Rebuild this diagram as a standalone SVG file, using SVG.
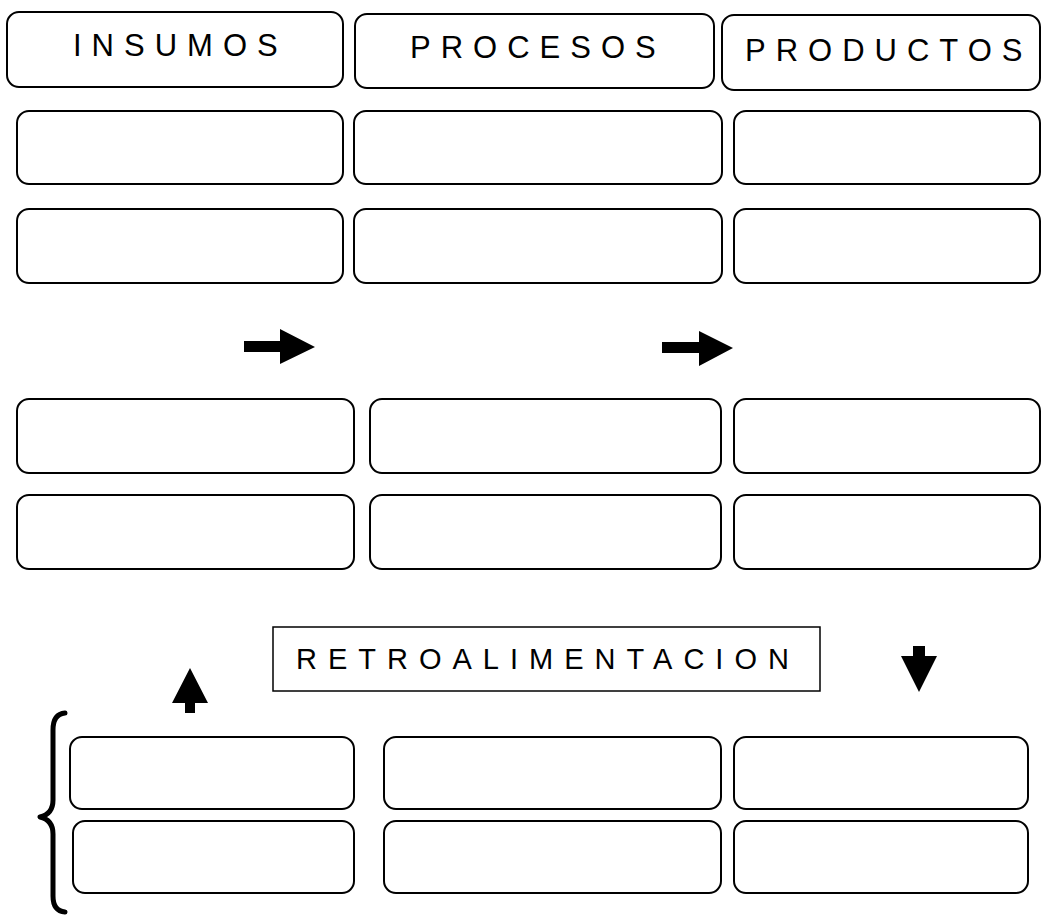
<svg xmlns="http://www.w3.org/2000/svg" width="1054" height="920" viewBox="0 0 1054 920">
  <style>
    .box { fill: #ffffff; stroke: #000000; stroke-width: 2; }
    .plain { fill: #ffffff; stroke: #000000; stroke-width: 1.5; }
    .label { font-family: "Liberation Sans", Arial, sans-serif; font-size: 31px; fill: #000000; letter-spacing: 10px; }
    .retro { font-size: 29px; letter-spacing: 11px; }
    .arrow { fill: #000000; stroke: none; }
    .brace { fill: none; stroke: #000000; stroke-width: 5; stroke-linecap: round; stroke-linejoin: round; }
  </style>
  <rect width="1054" height="920" fill="#ffffff"/>

  <!-- column headers -->
  <g id="insumos">
    <rect class="box" x="7" y="12" width="336" height="75" rx="12"/>
    <text class="label" x="73" y="56">INSUMOS</text>
  </g>
  <g id="procesos">
    <rect class="box" x="355" y="14" width="359" height="74" rx="12"/>
    <text class="label" x="410" y="58">PROCESOS</text>
  </g>
  <g id="productos">
    <rect class="box" x="722" y="15" width="318" height="75" rx="12"/>
    <text class="label" x="745" y="61">PRODUCTOS</text>
  </g>

  <!-- upper block, rows 2 and 3 -->
  <g id="r2c1"><rect class="box" x="17" y="111" width="326" height="73" rx="12"/></g>
  <g id="r2c2"><rect class="box" x="354" y="111" width="368" height="73" rx="12"/></g>
  <g id="r2c3"><rect class="box" x="734" y="111" width="306" height="73" rx="12"/></g>
  <g id="r3c1"><rect class="box" x="17" y="209" width="326" height="74" rx="12"/></g>
  <g id="r3c2"><rect class="box" x="354" y="209" width="368" height="74" rx="12"/></g>
  <g id="r3c3"><rect class="box" x="734" y="209" width="306" height="74" rx="12"/></g>

  <!-- middle block, rows 4 and 5 -->
  <g id="r4c1"><rect class="box" x="17" y="399" width="337" height="74" rx="12"/></g>
  <g id="r4c2"><rect class="box" x="370" y="399" width="351" height="74" rx="12"/></g>
  <g id="r4c3"><rect class="box" x="734" y="399" width="306" height="74" rx="12"/></g>
  <g id="r5c1"><rect class="box" x="17" y="495" width="337" height="74" rx="12"/></g>
  <g id="r5c2"><rect class="box" x="370" y="495" width="351" height="74" rx="12"/></g>
  <g id="r5c3"><rect class="box" x="734" y="495" width="306" height="74" rx="12"/></g>

  <!-- feedback label -->
  <g id="retroalimentacion">
    <rect class="plain" x="273" y="627" width="547" height="64"/>
    <text class="label retro" x="296" y="669">RETROALIMENTACION</text>
  </g>

  <!-- lower block, rows 6 and 7 -->
  <g id="r6c1"><rect class="box" x="70" y="737" width="284" height="72" rx="12"/></g>
  <g id="r6c2"><rect class="box" x="384" y="737" width="337" height="72" rx="12"/></g>
  <g id="r6c3"><rect class="box" x="734" y="737" width="294" height="72" rx="12"/></g>
  <g id="r7c1"><rect class="box" x="73" y="821" width="281" height="72" rx="12"/></g>
  <g id="r7c2"><rect class="box" x="384" y="821" width="337" height="72" rx="12"/></g>
  <g id="r7c3"><rect class="box" x="734" y="821" width="294" height="72" rx="12"/></g>

  <!-- block arrows and brace -->
  <g id="connectors">
    <polygon class="arrow" points="244,341 280,341 280,329 315,347 280,364 280,352 244,352"/>
    <polygon class="arrow" points="662,342 699,342 699,331 733,348 699,366 699,353 662,353"/>
    <polygon class="arrow" points="190,668 208,703 195,703 195,713 185,713 185,703 172,703"/>
    <polygon class="arrow" points="913,646 925,646 925,656 937,656 919,692 901,656 913,656"/>
    <path class="brace" d="M 65 713 Q 53 714 53 730 L 53 800 Q 53 814 40 817 Q 53 820 53 834 L 53 896 Q 53 911 65 912"/>
  </g>
</svg>
